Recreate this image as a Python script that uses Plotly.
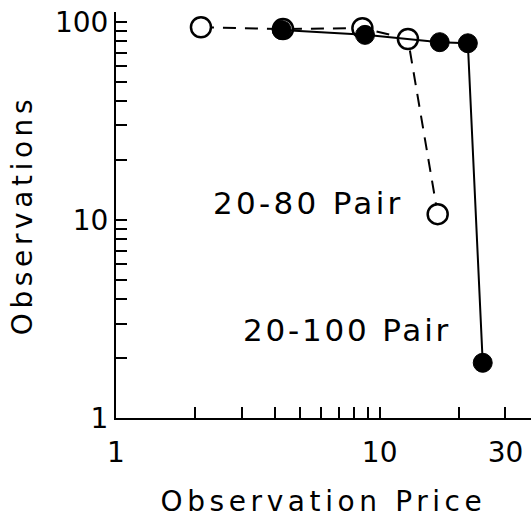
import plotly.graph_objects as go

# 20-80 Pair (open circles, dashed)
price_80 = [2.1, 4.3, 8.6, 12.8, 16.6]
obs_80 = [94, 92, 93, 82, 10.7]
# 20-100 Pair (filled circles, solid)
price_100 = [4.25, 8.8, 16.9, 21.6, 24.6]
obs_100 = [91, 86, 79, 78, 1.9]

label_80 = "20-80 Pair"
label_100 = "20-100 Pair"
x_title = "Observation Price"
y_title = "Observations"

FONT = "DejaVu Sans"


def spaced(t, px):
    return f'<span style="letter-spacing:{px}px">{t}</span>'


L, R, T, B = 116, 0, 12, 102
W, H = 531, 520
pw, ph = W - L - R, H - T - B

fig = go.Figure()
fig.add_trace(go.Scatter(
    x=price_80, y=obs_80, mode="lines+markers", name=label_80,
    line=dict(color="black", width=2, dash="13px,9px"),
    marker=dict(symbol="circle", size=20, color="white", line=dict(color="black", width=2.5)),
))
fig.add_trace(go.Scatter(
    x=price_100, y=obs_100, mode="lines+markers", name=label_100,
    line=dict(color="black", width=2),
    marker=dict(symbol="circle", size=19, color="black", line=dict(color="black", width=1)),
))

for txt, px, py, sp in [(label_80, 308, 203, 3.3), (label_100, 347, 350, 2.8)]:
    fig.add_annotation(x=(px - L) / pw, y=1 - (py - T) / ph, xref="paper", yref="paper",
                       text=spaced(txt, sp), showarrow=False,
                       font=dict(family=FONT, size=31, color="black"))

fig.update_layout(
    width=W, height=H,
    margin=dict(l=L, r=R, t=T, b=B),
    paper_bgcolor="white", plot_bgcolor="white",
    showlegend=False,
    font=dict(family=FONT, size=28, color="black"),
    xaxis=dict(
        type="log", range=[0, 1.574], automargin=False,
        tickvals=[1, 10, 30], ticktext=["1", "10", "30"],
        ticks="inside", ticklen=11, tickwidth=2, tickcolor="black",
        showline=True, linecolor="black", linewidth=2,
        showgrid=False, zeroline=False,
        minor=dict(tickvals=[2, 3, 4, 5, 6, 7, 8, 9, 20], ticks="inside", ticklen=11,
                   tickwidth=2, tickcolor="black", showgrid=False),
        title=dict(text=spaced(x_title, 4.6), font=dict(size=28), standoff=24),
        tickfont=dict(size=28),
        ticklabelstandoff=8,
        ticklabeloverflow="allow",
    ),
    yaxis=dict(
        type="log", range=[0, 2.05], automargin=False,
        tickvals=[1, 10, 100], ticktext=["1", "10", "100"],
        ticks="inside", ticklen=11, tickwidth=2, tickcolor="black",
        showline=True, linecolor="black", linewidth=2,
        showgrid=False, zeroline=False,
        minor=dict(tickvals=[2, 3, 4, 5, 6, 7, 8, 9, 20, 30, 40, 50, 60, 70, 80, 90],
                   ticks="inside", ticklen=11, tickwidth=2, tickcolor="black", showgrid=False),
        title=dict(text=spaced(y_title, 4.6), font=dict(size=28), standoff=14),
        tickfont=dict(size=28),
        ticklabeloverflow="allow",
    ),
)

fig.write_html("out.html", config={"displayModeBar": False},
               post_script="document.body.style.margin='0';document.body.style.overflow='hidden';")
